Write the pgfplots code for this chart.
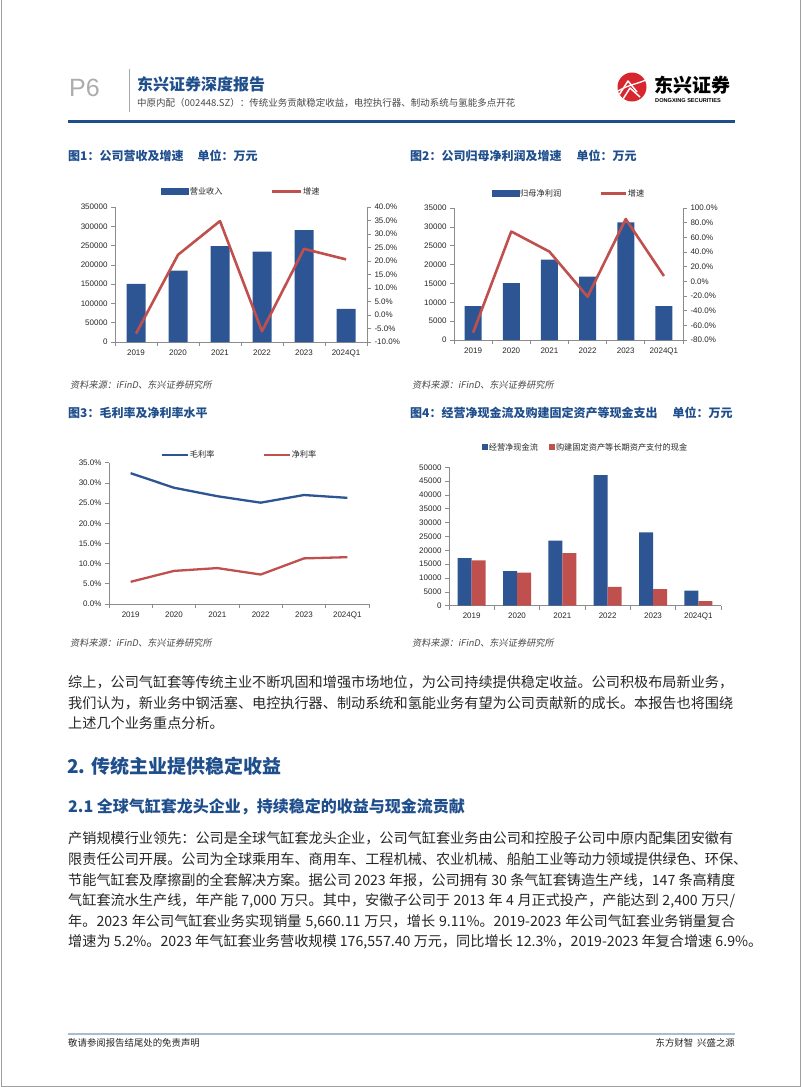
\documentclass[border=0pt]{standalone}
\usepackage{fontspec}
\setmainfont{Liberation Sans}
\newfontfamily\cjk{Noto Sans CJK SC}
\newfontfamily\cjki{Noto Sans CJK SC}[FakeSlant=0.18]
\usepackage{pgfplots}
\pgfplotsset{compat=1.18}
\definecolor{barblue}{HTML}{2E5593}
\definecolor{linered}{HTML}{C0504D}
\definecolor{titleblue}{HTML}{1F4E8C}
\definecolor{axgray}{HTML}{8C8C8C}
\definecolor{txt}{HTML}{262626}
\definecolor{footline}{HTML}{A9BCCF}
\definecolor{logored}{HTML}{D7262D}
\pgfplotsset{
 catbase/.style={
   scale only axis, xmin=-0.5, xmax=5.5,
   xtick={0,...,5}, xticklabels={2019,2020,2021,2022,2023,2024Q1},
   minor xtick={-0.5,0.5,...,5.5},
   axis x line*=bottom, axis y line*=left,
   axis line style={draw=axgray, line width=0.7pt},
   tick align=outside,
   major tick length=4pt, minor tick length=4pt,
   tick style={draw=axgray, line width=0.7pt},
   major x tick style={draw=none},
   ticklabel style={font=\fontsize{8}{9}\selectfont, text=txt},
   /pgf/number format/assume math mode=true,
   clip=false,
 },
 rightbase/.style={
   scale only axis, xmin=-0.5, xmax=5.5,
   axis x line=none, axis y line*=right,
   axis line style={draw=axgray, line width=0.7pt},
   tick align=outside, major tick length=4pt,
   tick style={draw=axgray, line width=0.7pt},
   ticklabel style={font=\fontsize{8}{9}\selectfont, text=txt},
   clip=false,
 },
 mylegend/.style 2 args={
   legend style={at={(0.5,1)}, anchor=center, yshift=#1, draw=none, fill=none,
     legend columns=2, font=\cjk\fontsize{8.2}{9}\selectfont, text=txt,
     inner sep=0pt, outer sep=0pt, nodes={inner sep=1pt},
     /tikz/every even column/.append style={column sep=#2}},
 },
 pct/.style={yticklabel={\pgfmathprintnumber[fixed,fixed zerofill,precision=1,assume math mode=true]{\tick}\%}},
}
\begin{document}
\begin{tikzpicture}[x=1pt,y=1pt]
\path[use as bounding box] (0pt,0pt) rectangle (802pt,-1087pt);
% page frame
\draw[gray!75, line width=1pt] (1,0) -- (1,-1086) -- (800.5,-1086) -- (800.5,0);

% ===== header =====
\node[anchor=west, inner sep=0, text=gray!65, font=\fontsize{25}{27}\selectfont] at (69,-88) {P6};
\draw[gray!70, line width=0.8pt] (129.5,-69) -- (129.5,-112);
\node[anchor=west, inner sep=0, text=titleblue, font=\cjk\bfseries\fontsize{16}{18}\selectfont] at (137,-84) {东兴证券深度报告};
\node[anchor=west, inner sep=0, text=txt!85, font=\cjk\fontsize{9.5}{11}\selectfont] at (137,-103) {中原内配（002448.SZ）：传统业务贡献稳定收益，电控执行器、制动系统与氢能多点开花};
% logo
\fill[logored] (632,-87) circle (14.5);
\begin{scope}
\clip (632,-87) circle (14.5);
\draw[white, line width=1.5pt, line join=round] (619,-95) -- (628,-81) -- (637,-92);
\draw[white, line width=1.5pt, line join=round] (623,-99) -- (630,-88) -- (640,-97);
\draw[white, line width=1.3pt] (618,-91) .. controls (630,-84) and (638,-84) .. (648,-79);
\end{scope}
\node[anchor=west, inner sep=0, text=black, font=\cjk\bfseries\fontsize{19}{21}\selectfont] at (654,-85) {东兴证券};
\node[anchor=west, inner sep=0, text=black, font=\bfseries\fontsize{5.6}{6}\selectfont] at (655,-101) {DONGXING SECURITIES};
\draw[titleblue, line width=3pt] (68,-121) -- (735,-121);

% ===== chart titles =====
\node[anchor=west, inner sep=0, text=titleblue, font=\cjk\bfseries\fontsize{12}{14}\selectfont] at (68,-156) {图1：公司营收及增速\hspace{14pt}单位：万元};
\node[anchor=west, inner sep=0, text=titleblue, font=\cjk\bfseries\fontsize{12}{14}\selectfont] at (410,-156) {图2：公司归母净利润及增速\hspace{15pt}单位：万元};
\node[anchor=west, inner sep=0, text=titleblue, font=\cjk\bfseries\fontsize{12}{14}\selectfont] at (68,-413) {图3：毛利率及净利率水平};
\node[anchor=west, inner sep=0, text=titleblue, font=\cjk\bfseries\fontsize{12}{14}\selectfont] at (410,-413) {图4：经营净现金流及购建固定资产等现金支出\hspace{15pt}单位：万元};

% ===== sources =====
\node[anchor=west, inner sep=0, text=txt!85, font=\cjki\fontsize{9.2}{10}\selectfont] at (70,-385) {资料来源：iFinD、东兴证券研究所};
\node[anchor=west, inner sep=0, text=txt!85, font=\cjki\fontsize{9.2}{10}\selectfont] at (412,-385) {资料来源：iFinD、东兴证券研究所};
\node[anchor=west, inner sep=0, text=txt!85, font=\cjki\fontsize{9.2}{10}\selectfont] at (70,-643) {资料来源：iFinD、东兴证券研究所};
\node[anchor=west, inner sep=0, text=txt!85, font=\cjki\fontsize{9.2}{10}\selectfont] at (412,-643) {资料来源：iFinD、东兴证券研究所};

% ===== Chart 1 =====
\begin{axis}[catbase, at={(115pt,-342pt)}, anchor=south west, width=252pt, height=135pt,
  ymin=0, ymax=350000, ytick={0,50000,...,350000}, scaled y ticks=false,
  yticklabel style={/pgf/number format/fixed, /pgf/number format/1000 sep={}},
  ybar, bar width=19pt]
\addplot[fill=barblue, draw=none] coordinates {(0,151000) (1,184800) (2,248900) (3,234000) (4,290000) (5,85600)};
\end{axis}
\begin{axis}[rightbase, at={(115pt,-342pt)}, anchor=south west, width=252pt, height=135pt,
  ymin=-10, ymax=40, ytick={-10,-5,...,40}, pct, mylegend={15.5pt}{47pt}]
\addlegendimage{legend image code/.code={\fill[barblue] (0pt,-3pt) rectangle (27pt,3pt);}}
\addlegendentry{营业收入}
\addplot[linered, line width=2.6pt, line join=round, mark=none,
  legend image code/.code={\draw[linered, line width=2.6pt] (0pt,0pt) -- (29pt,0pt);}]
  coordinates {(0,-6.9) (1,22.3) (2,34.8) (3,-6.0) (4,24.5) (5,20.6)};
\addlegendentry{增速}
\end{axis}

% ===== Chart 2 =====
\begin{axis}[catbase, at={(454pt,-340pt)}, anchor=south west, width=229pt, height=132pt,
  ymin=0, ymax=35000, ytick={0,5000,...,35000}, scaled y ticks=false,
  yticklabel style={/pgf/number format/fixed, /pgf/number format/1000 sep={}},
  ybar, bar width=17pt]
\addplot[fill=barblue, draw=none] coordinates {(0,9000) (1,15100) (2,21300) (3,16800) (4,31200) (5,9000)};
\end{axis}
\begin{axis}[rightbase, at={(454pt,-340pt)}, anchor=south west, width=229pt, height=132pt,
  ymin=-80, ymax=100, ytick={-80,-60,...,100}, pct, mylegend={14.7pt}{37pt}]
\addlegendimage{legend image code/.code={\fill[barblue] (0pt,-2.7pt) rectangle (27pt,2.7pt);}}
\addlegendentry{归母净利润}
\addplot[linered, line width=2.6pt, line join=round, mark=none,
  legend image code/.code={\draw[linered, line width=2.6pt] (0pt,0pt) -- (25pt,0pt);}]
  coordinates {(0,-70) (1,68) (2,40.5) (3,-21) (4,85) (5,7.3)};
\addlegendentry{增速}
\end{axis}

% ===== Chart 3 =====
\begin{axis}[catbase, at={(109pt,-604pt)}, anchor=south west, width=260pt, height=141.3pt,
  ymin=0, ymax=35, ytick={0,5,...,35}, pct, mylegend={7.7pt}{47pt}]
\addplot[barblue, line width=2.3pt, line join=round, mark=none,
  legend image code/.code={\draw[barblue, line width=2.3pt] (0pt,0pt) -- (26pt,0pt);}]
  coordinates {(0,32.4) (1,28.8) (2,26.7) (3,25.1) (4,27.0) (5,26.3)};
\addlegendentry{毛利率}
\addplot[linered, line width=2.3pt, line join=round, mark=none,
  legend image code/.code={\draw[linered, line width=2.3pt] (0pt,0pt) -- (26pt,0pt);}]
  coordinates {(0,5.5) (1,8.2) (2,8.9) (3,7.3) (4,11.3) (5,11.6)};
\addlegendentry{净利率}
\end{axis}

% ===== Chart 4 =====
\begin{axis}[catbase, at={(449pt,-605.7pt)}, anchor=south west, width=272pt, height=138.4pt,
  ymin=0, ymax=50000, ytick={0,5000,...,50000}, scaled y ticks=false,
  yticklabel style={/pgf/number format/fixed, /pgf/number format/1000 sep={}},
  ybar=0pt, bar width=14pt, mylegend={20pt}{10pt}]
\addplot[fill=barblue, draw=none,
  legend image code/.code={\fill[barblue] (0pt,-3pt) rectangle (6pt,3pt);}]
  coordinates {(0,17230) (1,12530) (2,23480) (3,47220) (4,26520) (5,5420)};
\addlegendentry{经营净现金流}
\addplot[fill=linered, draw=none,
  legend image code/.code={\fill[linered] (0pt,-3pt) rectangle (6pt,3pt);}]
  coordinates {(0,16400) (1,11920) (2,19040) (3,6760) (4,6030) (5,1700)};
\addlegendentry{购建固定资产等长期资产支付的现金}
\end{axis}

% ===== body text =====
\begin{scope}[every node/.style={anchor=west, inner sep=0, text=txt, font=\cjk\fontsize{14.15}{16}\selectfont}]
\node at (68,-682) {综上，公司气缸套等传统主业不断巩固和增强市场地位，为公司持续提供稳定收益。公司积极布局新业务，};
\node at (68,-703) {我们认为，新业务中钢活塞、电控执行器、制动系统和氢能业务有望为公司贡献新的成长。本报告也将围绕};
\node at (68,-723) {上述几个业务重点分析。};
\node at (68,-838) {产销规模行业领先：公司是全球气缸套龙头企业，公司气缸套业务由公司和控股子公司中原内配集团安徽有};
\node at (68,-859) {限责任公司开展。公司为全球乘用车、商用车、工程机械、农业机械、船舶工业等动力领域提供绿色、环保、};
\node at (68,-880) {\makebox[667pt][s]{节能气缸套及摩擦副的全套解决方案。据公司 2023 年报，公司拥有 30 条气缸套铸造生产线，147 条高精度}};
\node at (68,-901) {\makebox[667pt][s]{气缸套流水生产线，年产能 7,000 万只。其中，安徽子公司于 2013 年 4 月正式投产，产能达到 2,400 万只/}};
\node at (68,-922) {\makebox[667pt][s]{年。2023 年公司气缸套业务实现销量 5,660.11 万只，增长 9.11\%。2019-2023 年公司气缸套业务销量复合}};
\node at (68,-942) {增速为 5.2\%。2023 年气缸套业务营收规模 176,557.40 万元，同比增长 12.3\%，2019-2023 年复合增速 6.9\%。};
\end{scope}
\node[anchor=west, inner sep=0, text=titleblue, font=\cjk\bfseries\fontsize{19}{21}\selectfont] at (67,-766) {2. 传统主业提供稳定收益};
\node[anchor=west, inner sep=0, text=titleblue, font=\cjk\bfseries\fontsize{16}{18}\selectfont] at (68,-807) {2.1 全球气缸套龙头企业，持续稳定的收益与现金流贡献};

% ===== footer =====
\draw[footline, line width=2pt] (68,-1034) -- (735,-1034);
\node[anchor=west, inner sep=0, text=txt, font=\cjk\fontsize{9.4}{10}\selectfont] at (68,-1043) {敬请参阅报告结尾处的免责声明};
\node[anchor=east, inner sep=0, text=txt, font=\cjk\fontsize{9.4}{10}\selectfont] at (735,-1043) {东方财智\hspace{4pt}兴盛之源};
\end{tikzpicture}
\end{document}
